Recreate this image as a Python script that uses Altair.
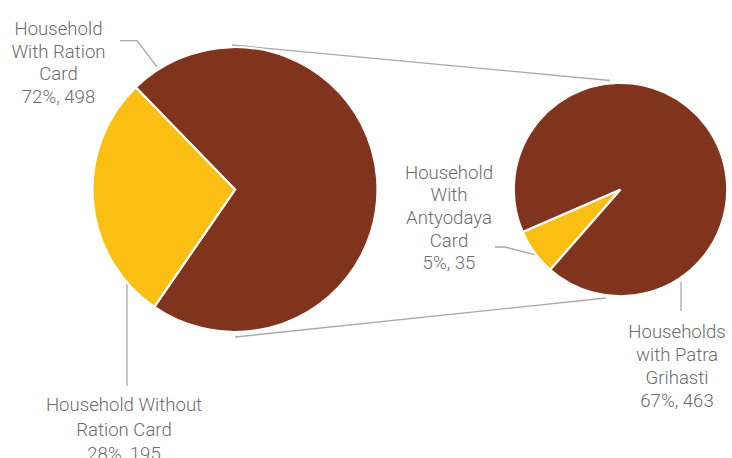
import math
import altair as alt
import pandas as pd

W, H = 732, 458

# ---------------- data ----------------
main_cats = ["Household With Ration Card", "Household Without Ration Card"]
main_vals = [498, 195]
main_pcts = ["72%", "28%"]

sub_cats = ["Household With Antyodaya Card", "Households with Patra Grihasti"]
sub_vals = [35, 463]
sub_pcts = ["5%", "67%"]

# wrapped label text (as in the reference)
main_wrap = [["Household", "With Ration", "Card"], ["Household Without", "Ration Card"]]
sub_wrap = [["Household", "With", "Antyodaya", "Card"], ["Households", "with Patra", "Grihasti"]]

# ---------------- styles / layout ----------------
BROWN = "#80341D"
YELLOW = "#FBBF13"
TEXT = "#6b6b6b"
LINE = "#a8a8a8"

all_cats = main_cats + sub_cats
cat_colors = [BROWN, YELLOW, YELLOW, BROWN]

LEFT = dict(cx=235, cy=189.5, r=142.5, start=315.8)   # brown slice starts here
RIGHT = dict(cx=620.5, cy=189.5, r=106.7, start=221.2)  # yellow slice starts here

# label anchor: x centre, first baseline, line height
main_anchor = [(58.5, 35, 22.7), (124, 411, 24.5)]
sub_anchor = [(449, 178.5, 22.7), (677, 338.3, 22.8)]

# leader / connector polylines
lines_layout = {
    "conn_top": [(232, 45), (610, 80.5)],
    "conn_bot": [(235, 337), (606, 298)],
    "lead_ration": [(120, 40.7), (137, 40.7), (157, 67)],
    "lead_without": [(127, 264), (127, 386)],
    "lead_antyo": [(495, 247), (505, 247), (544, 257)],
    "lead_patra": [(681, 282), (681, 311)],
}

# ---------------- tables ----------------
main_df = pd.DataFrame({"category": main_cats, "value": main_vals, "ord": [0, 1]})
sub_df = pd.DataFrame({"category": sub_cats, "value": sub_vals, "ord": [0, 1]})

text_rows = []
for wraps, pcts, vals, anchors in [
    (main_wrap, main_pcts, main_vals, main_anchor),
    (sub_wrap, sub_pcts, sub_vals, sub_anchor),
]:
    for wrap, pct, val, (ax, ay, lh) in zip(wraps, pcts, vals, anchors):
        lines = wrap + [f"{pct}, {val}"]
        for i, t in enumerate(lines):
            text_rows.append({"x": ax, "y": ay + i * lh, "text": t})
text_df = pd.DataFrame(text_rows)

line_rows = []
for lid, pts in lines_layout.items():
    for i, (px, py) in enumerate(pts):
        line_rows.append({"id": lid, "seq": i, "x": px, "y": py})
line_df = pd.DataFrame(line_rows)

xs = alt.Scale(domain=[0, W], range=[0, W])
ys = alt.Scale(domain=[0, H], range=[0, H])
cscale = alt.Scale(domain=all_cats, range=cat_colors)


def pie(df, lay):
    a0 = math.radians(lay["start"])
    return alt.Chart(df).mark_arc(radius=lay["r"], stroke="white", strokeWidth=2.2).encode(
        x=alt.X(datum=lay["cx"], scale=xs, axis=None),
        y=alt.Y(datum=lay["cy"], scale=ys, axis=None),
        theta=alt.Theta("value:Q", stack=True, scale=alt.Scale(range=[a0, a0 + 2 * math.pi])),
        color=alt.Color("category:N", scale=cscale, legend=None),
        order=alt.Order("ord:Q"),
    )


lines = alt.Chart(line_df).mark_line(color=LINE, strokeWidth=1.3).encode(
    x=alt.X("x:Q", scale=xs, axis=None),
    y=alt.Y("y:Q", scale=ys, axis=None),
    detail="id:N",
    order="seq:Q",
)

texts = alt.Chart(text_df).mark_text(
    align="center", baseline="alphabetic", font="Roboto", fontSize=18.6,
    fontWeight=300, color=TEXT,
).encode(
    x=alt.X("x:Q", scale=xs, axis=None),
    y=alt.Y("y:Q", scale=ys, axis=None),
    text="text:N",
)

chart = alt.layer(lines, pie(main_df, LEFT), pie(sub_df, RIGHT), texts).resolve_scale(
    theta="independent"
).properties(
    width=W, height=H, padding=0, autosize=alt.AutoSizeParams(type="none"),
    background="white",
).configure_view(stroke=None)

chart.save("out.html", embed_options={"renderer": "svg", "actions": False})
